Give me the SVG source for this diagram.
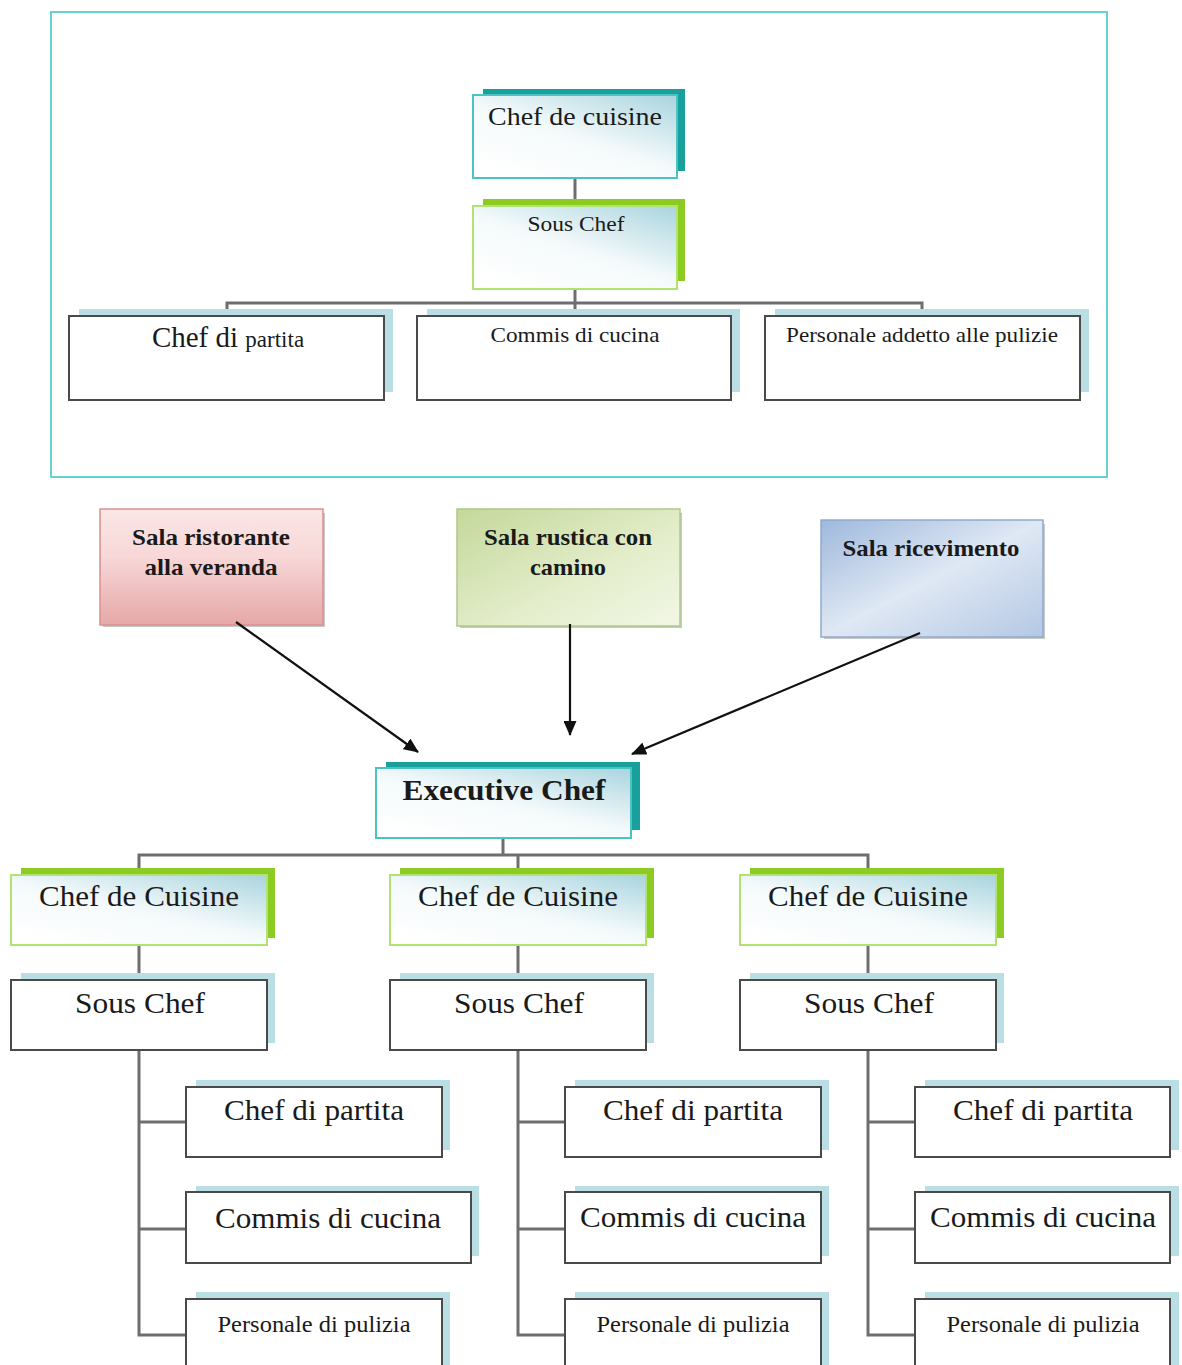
<svg xmlns="http://www.w3.org/2000/svg" width="1182" height="1365" viewBox="0 0 1182 1365">
<defs>
<linearGradient id="gBlue" x1="0.2" y1="1" x2="1" y2="0">
<stop offset="0" stop-color="#ffffff"/><stop offset="0.45" stop-color="#f4fafb"/><stop offset="1" stop-color="#a9d4de"/>
</linearGradient>
<linearGradient id="gPink" x1="0" y1="0" x2="0" y2="1">
<stop offset="0" stop-color="#fbe6e6"/><stop offset="0.4" stop-color="#f8d8d8"/><stop offset="1" stop-color="#e6a8a8"/>
</linearGradient>
<linearGradient id="gGreen" x1="0" y1="0" x2="1" y2="1">
<stop offset="0" stop-color="#c4d89a"/><stop offset="0.6" stop-color="#e4eecc"/><stop offset="1" stop-color="#f2f7e6"/>
</linearGradient>
<linearGradient id="gSky" x1="0" y1="0" x2="1" y2="1">
<stop offset="0" stop-color="#9eb8dc"/><stop offset="0.5" stop-color="#dfe8f4"/><stop offset="1" stop-color="#b4c8e4"/>
</linearGradient>
<marker id="arr" markerWidth="15" markerHeight="13" refX="14" refY="6.5" orient="auto" markerUnits="userSpaceOnUse" viewBox="0 0 15 13">
<path d="M0,0 L15,6.5 L0,13 z" fill="#111"/>
</marker>
</defs>
<style>
.t{font-family:"Liberation Serif","Times New Roman",serif;fill:#1a1a1a;text-anchor:middle}
.b{font-weight:bold}
.conn{stroke:#6e6e6e;stroke-width:3;fill:none}
.arrow{stroke:#111;stroke-width:2.2;fill:none}
.plain{fill:#fff;stroke:#4a4a4a;stroke-width:2}
.lshadow{fill:#b9dfe5}
.tealBack{fill:#17a09c}
.greenBack{fill:#8ccc22}
.tealFront{fill:url(#gBlue);stroke:#4cc3c3;stroke-width:2}
.greenFront{fill:url(#gBlue);stroke:#b2e270;stroke-width:2}
</style>
<rect width="1182" height="1365" fill="#fff"/>
<rect x="51" y="12" width="1056" height="465" fill="none" stroke="#66d2d2" stroke-width="2"/>

<g id="connectors">
<line class="conn" x1="575" y1="178" x2="575" y2="206"/>
<polyline class="conn" points="227,316 227,303 922,303 922,316"/>
<line class="conn" x1="575" y1="289" x2="575" y2="316"/>
<line class="conn" x1="503" y1="838" x2="503" y2="855"/>
<polyline class="conn" points="139,875 139,855 868,855 868,875"/>
<line class="conn" x1="518" y1="855" x2="518" y2="875"/>
<line class="conn" x1="139" y1="945" x2="139" y2="980"/>
<line class="conn" x1="518" y1="945" x2="518" y2="980"/>
<line class="conn" x1="868" y1="945" x2="868" y2="980"/>
<path class="conn" d="M139,1050 V1335 H186 M139,1122 H186 M139,1229 H186"/>
<path class="conn" d="M518,1050 V1335 H565 M518,1122 H565 M518,1229 H565"/>
<path class="conn" d="M868,1050 V1335 H915 M868,1122 H915 M868,1229 H915"/>
</g>

<g id="top-chef-de-cuisine">
<rect class="tealBack" x="483" y="89" width="202" height="82"/>
<rect class="tealFront" x="473" y="95" width="204" height="83"/>
<text class="t" x="575" y="125" font-size="26" textLength="174" lengthAdjust="spacingAndGlyphs">Chef de cuisine</text>
</g>
<g id="top-sous-chef">
<rect class="greenBack" x="483" y="199" width="202" height="82"/>
<rect class="greenFront" x="473" y="206" width="204" height="83"/>
<text class="t" x="576" y="231" font-size="22" textLength="97" lengthAdjust="spacingAndGlyphs">Sous Chef</text>
</g>
<g id="top-chef-di-partita">
<rect class="lshadow" x="79" y="309" width="314" height="83"/>
<rect class="plain" x="69" y="316" width="315" height="84"/>
<text class="t" x="228" y="347" font-size="29">Chef di <tspan font-size="23">partita</tspan></text>
</g>
<g id="top-commis">
<rect class="lshadow" x="427" y="309" width="313" height="83"/>
<rect class="plain" x="417" y="316" width="314" height="84"/>
<text class="t" x="575" y="342" font-size="22" textLength="169" lengthAdjust="spacingAndGlyphs">Commis di cucina</text>
</g>
<g id="top-personale">
<rect class="lshadow" x="775" y="309" width="314" height="83"/>
<rect class="plain" x="765" y="316" width="315" height="84"/>
<text class="t" x="922" y="342" font-size="22" textLength="272" lengthAdjust="spacingAndGlyphs">Personale addetto alle pulizie</text>
</g>

<g id="sala-ristorante">
<rect x="103" y="513" width="222" height="114" fill="#c8c8c8"/>
<rect x="100" y="509" width="223" height="116" fill="url(#gPink)" stroke="#d99090" stroke-width="1.5"/>
<text class="t b" x="211" y="545" font-size="23" textLength="158" lengthAdjust="spacingAndGlyphs">Sala ristorante</text>
<text class="t b" x="211" y="575" font-size="23" textLength="133" lengthAdjust="spacingAndGlyphs">alla veranda</text>
</g>
<g id="sala-rustica">
<rect x="460" y="513" width="222" height="115" fill="#c8c8c8"/>
<rect x="457" y="509" width="223" height="117" fill="url(#gGreen)" stroke="#b0c888" stroke-width="1.5"/>
<text class="t b" x="568" y="545" font-size="23" textLength="168" lengthAdjust="spacingAndGlyphs">Sala rustica con</text>
<text class="t b" x="568" y="575" font-size="23" textLength="76" lengthAdjust="spacingAndGlyphs">camino</text>
</g>
<g id="sala-ricevimento">
<rect x="824" y="524" width="221" height="115" fill="#c8c8c8"/>
<rect x="821" y="520" width="222" height="117" fill="url(#gSky)" stroke="#90aad0" stroke-width="1.5"/>
<text class="t b" x="931" y="556" font-size="23" textLength="177" lengthAdjust="spacingAndGlyphs">Sala ricevimento</text>
</g>

<g id="arrows">
<line class="arrow" x1="236" y1="622" x2="418" y2="752" marker-end="url(#arr)"/>
<line class="arrow" x1="570" y1="624" x2="570" y2="735" marker-end="url(#arr)"/>
<line class="arrow" x1="920" y1="633" x2="632" y2="754" marker-end="url(#arr)"/>
</g>

<g id="executive-chef">
<rect class="tealBack" x="386" y="762" width="254" height="68"/>
<rect class="tealFront" x="376" y="768" width="255" height="70"/>
<text class="t b" x="504" y="800" font-size="30" textLength="203" lengthAdjust="spacingAndGlyphs">Executive Chef</text>
</g>

<g id="cdc-1">
<rect class="greenBack" x="21" y="868" width="254" height="70"/>
<rect class="greenFront" x="11" y="875" width="256" height="70"/>
<text class="t" x="139" y="906" font-size="30" textLength="200" lengthAdjust="spacingAndGlyphs">Chef de Cuisine</text>
</g>
<g id="cdc-2">
<rect class="greenBack" x="400" y="868" width="254" height="70"/>
<rect class="greenFront" x="390" y="875" width="256" height="70"/>
<text class="t" x="518" y="906" font-size="30" textLength="200" lengthAdjust="spacingAndGlyphs">Chef de Cuisine</text>
</g>
<g id="cdc-3">
<rect class="greenBack" x="750" y="868" width="254" height="70"/>
<rect class="greenFront" x="740" y="875" width="256" height="70"/>
<text class="t" x="868" y="906" font-size="30" textLength="200" lengthAdjust="spacingAndGlyphs">Chef de Cuisine</text>
</g>

<g id="sous-1">
<rect class="lshadow" x="21" y="973" width="254" height="70"/>
<rect class="plain" x="11" y="980" width="256" height="70"/>
<text class="t" x="140" y="1013" font-size="30" textLength="130" lengthAdjust="spacingAndGlyphs">Sous Chef</text>
</g>
<g id="sous-2">
<rect class="lshadow" x="400" y="973" width="254" height="70"/>
<rect class="plain" x="390" y="980" width="256" height="70"/>
<text class="t" x="519" y="1013" font-size="30" textLength="130" lengthAdjust="spacingAndGlyphs">Sous Chef</text>
</g>
<g id="sous-3">
<rect class="lshadow" x="750" y="973" width="254" height="70"/>
<rect class="plain" x="740" y="980" width="256" height="70"/>
<text class="t" x="869" y="1013" font-size="30" textLength="130" lengthAdjust="spacingAndGlyphs">Sous Chef</text>
</g>

<g id="cdp-1">
<rect class="lshadow" x="196" y="1080" width="254" height="70"/>
<rect class="plain" x="186" y="1087" width="256" height="70"/>
<text class="t" x="314" y="1120" font-size="30" textLength="180" lengthAdjust="spacingAndGlyphs">Chef di partita</text>
</g>
<g id="commis-1">
<rect class="lshadow" x="196" y="1186" width="283" height="70"/>
<rect class="plain" x="186" y="1192" width="285" height="71"/>
<text class="t" x="328" y="1228" font-size="30" textLength="226" lengthAdjust="spacingAndGlyphs">Commis di cucina</text>
</g>
<g id="pers-1">
<rect class="lshadow" x="196" y="1292" width="254" height="80"/>
<rect class="plain" x="186" y="1299" width="256" height="80"/>
<text class="t" x="314" y="1332" font-size="24" textLength="193" lengthAdjust="spacingAndGlyphs">Personale di pulizia</text>
</g>

<g id="cdp-2">
<rect class="lshadow" x="575" y="1080" width="254" height="70"/>
<rect class="plain" x="565" y="1087" width="256" height="70"/>
<text class="t" x="693" y="1120" font-size="30" textLength="180" lengthAdjust="spacingAndGlyphs">Chef di partita</text>
</g>
<g id="commis-2">
<rect class="lshadow" x="575" y="1186" width="254" height="70"/>
<rect class="plain" x="565" y="1192" width="256" height="71"/>
<text class="t" x="693" y="1227" font-size="30" textLength="226" lengthAdjust="spacingAndGlyphs">Commis di cucina</text>
</g>
<g id="pers-2">
<rect class="lshadow" x="575" y="1292" width="254" height="80"/>
<rect class="plain" x="565" y="1299" width="256" height="80"/>
<text class="t" x="693" y="1332" font-size="24" textLength="193" lengthAdjust="spacingAndGlyphs">Personale di pulizia</text>
</g>

<g id="cdp-3">
<rect class="lshadow" x="925" y="1080" width="254" height="70"/>
<rect class="plain" x="915" y="1087" width="255" height="70"/>
<text class="t" x="1043" y="1120" font-size="30" textLength="180" lengthAdjust="spacingAndGlyphs">Chef di partita</text>
</g>
<g id="commis-3">
<rect class="lshadow" x="925" y="1186" width="254" height="70"/>
<rect class="plain" x="915" y="1192" width="255" height="71"/>
<text class="t" x="1043" y="1227" font-size="30" textLength="226" lengthAdjust="spacingAndGlyphs">Commis di cucina</text>
</g>
<g id="pers-3">
<rect class="lshadow" x="925" y="1292" width="254" height="80"/>
<rect class="plain" x="915" y="1299" width="255" height="80"/>
<text class="t" x="1043" y="1332" font-size="24" textLength="193" lengthAdjust="spacingAndGlyphs">Personale di pulizia</text>
</g>
</svg>
